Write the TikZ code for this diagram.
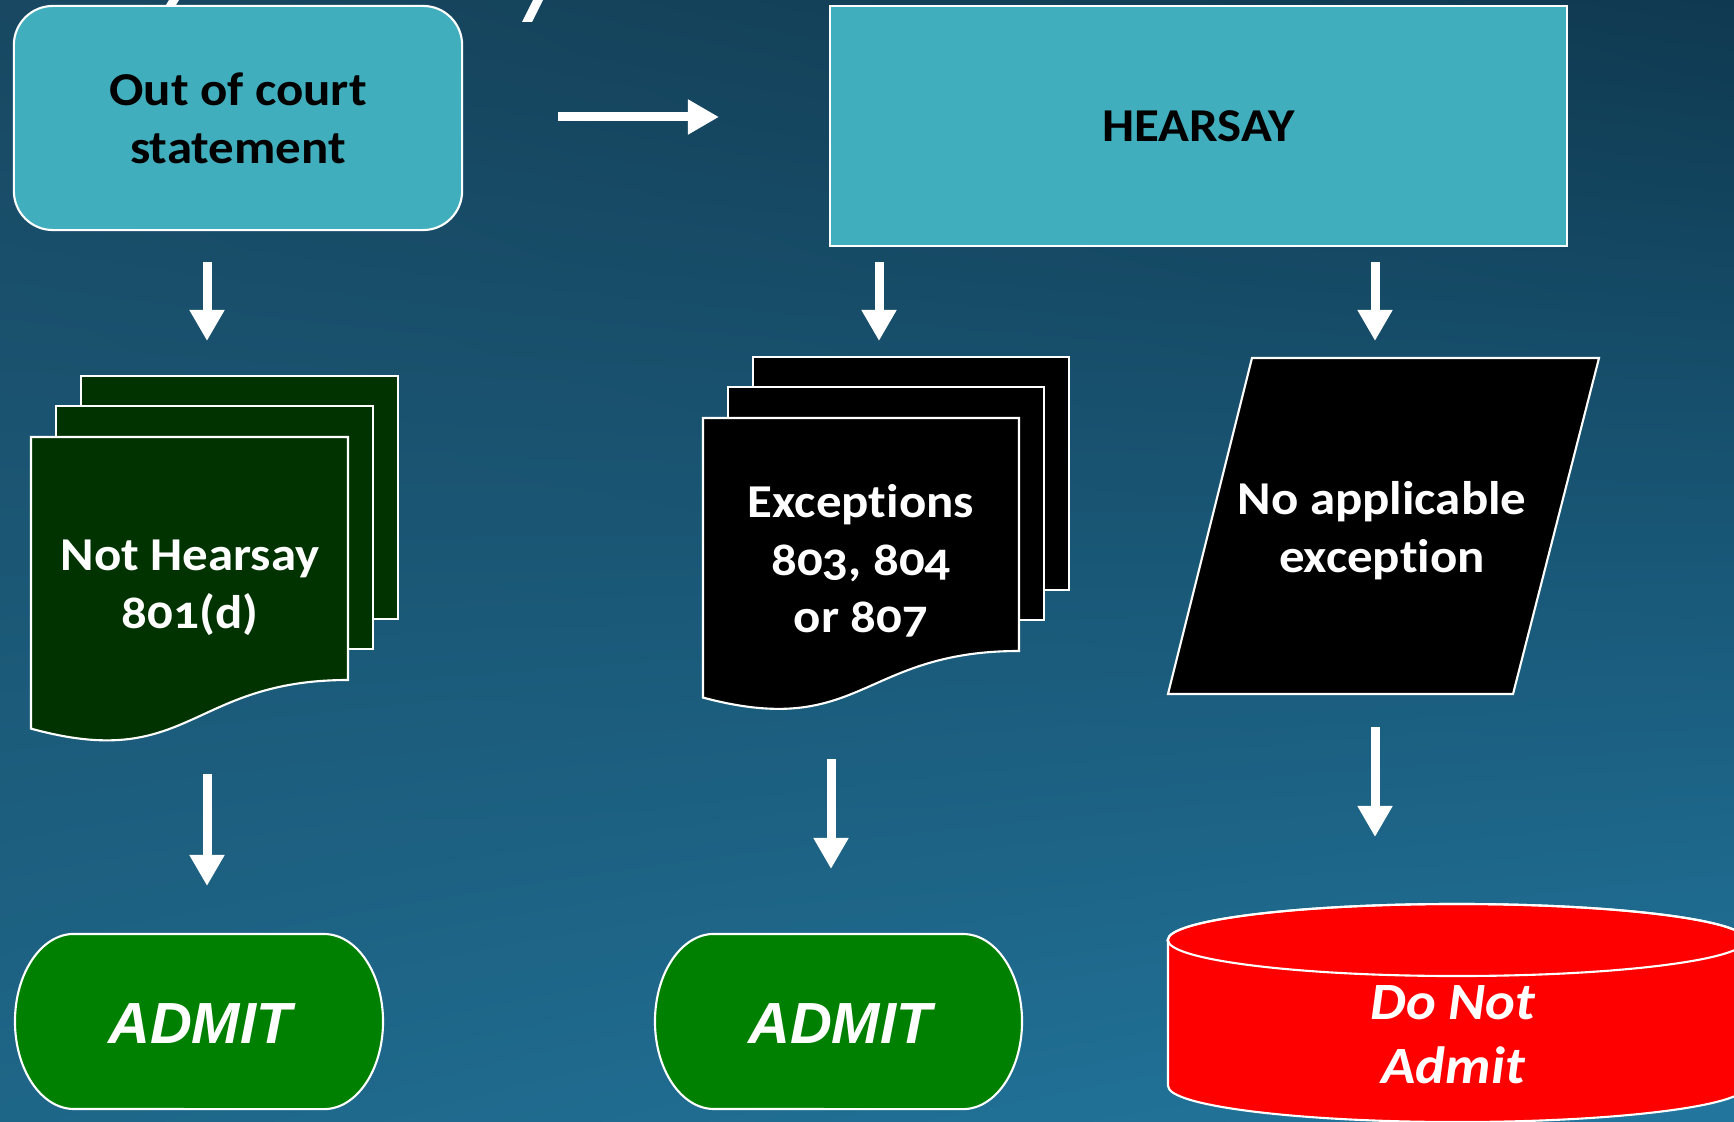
\documentclass[tikz,border=0pt]{standalone}
\usepackage{fontspec}
\setmainfont{Carlito}[Numbers=OldStyle,FakeStretch=1.08,Ligatures=NoCommon]
\newfontfamily\admitfont{Liberation Sans}
\usetikzlibrary{arrows.meta,shadings}

\definecolor{tealbox}{HTML}{41AEBD}
\definecolor{darkgreen}{HTML}{003300}
\definecolor{admitgreen}{HTML}{008000}
\definecolor{bgUL}{HTML}{184862}
\definecolor{bgUR}{HTML}{0F3950}
\definecolor{bgLL}{HTML}{1E6688}
\definecolor{bgLR}{HTML}{22769E}

\tikzset{
    flow/.style = {draw=white, line width=0.09cm, -{Triangle[length=0.31cm,width=0.33cm]}},
    outline/.style = {draw=white, line width=0.6pt},
    box/.style = {outline, fill=tealbox, text=black, align=center,
                  font=\fontsize{13.4}{16.4}\selectfont\bfseries},
    txt/.style = {text=white, align=center, font=\fontsize{13.4}{16.4}\selectfont\bfseries},
    endtxt/.style = {text=white, font=\admitfont\fontsize{16.5}{20}\selectfont\bfseries\itshape}
}

% three stacked sheets: left, top, width, height, fill
\newcommand{\pagestack}[5]{%
  \filldraw[outline,fill=#5] (#1+50,#2+61) rectangle ++(#3,-#4);
  \filldraw[outline,fill=#5] (#1+25,#2+31) rectangle ++(#3,-#4);
  \filldraw[outline,fill=#5] (#1,#2) -- ++(#3,0) -- ++(0,-#4)
    .. controls (#1+#3/2,#2-#4) and (#1+#3/2,#2-1.38*#4) .. (#1,#2-1.2*#4) -- cycle;}

% terminator with elliptic ends: left, top, width
\newcommand{\termshape}[3]{%
  \filldraw[outline,fill=admitgreen] (#1+59,#2) -- (#1+#3-59,#2)
    arc[start angle=90,end angle=-90,x radius=0.59cm,y radius=0.875cm]
    -- (#1+59,#2-175)
    arc[start angle=270,end angle=90,x radius=0.59cm,y radius=0.875cm] -- cycle;}

\begin{document}
\begin{tikzpicture}[x=0.01cm,y=0.01cm]
  \useasboundingbox (0,0) rectangle (1734,-1122);
  \shade[upper left=bgUL, upper right=bgUR, lower left=bgLL, lower right=bgLR]
    (0,0) rectangle (1734,-1122);

  % bits of the heading above the frame
  \fill[white] (166,-5) -- (176,-5) -- (179,0) -- (169,0) -- cycle;
  \fill[white] (522,-22) -- (532,-22) -- (543,0) -- (533,0) -- cycle;

  \node[box, minimum width=4.48cm, minimum height=2.24cm, rounded corners=0.39cm]
    (court) at (238,-118) {Out of court\\statement};
  \node[box, minimum width=7.37cm, minimum height=2.40cm]
    (hearsay) at (1198.5,-126) {HEARSAY};

  \pagestack{31}{-437}{317}{243}{darkgreen}
  \node[txt] (nothear) at (190,-588) {Not Hearsay\\801(d)};

  \pagestack{703}{-418}{316}{233}{black}
  \node[txt] (except) at (861,-561) {Exceptions\\803, 804\\or 807};

  \filldraw[outline,fill=black] (1252,-358) -- (1599,-358) -- (1513,-694) -- (1168,-694) -- cycle;
  \node[txt] (noexc) at (1382,-531) {No applicable\\exception};

  \termshape{15}{-934}{368}
  \node[endtxt] (admitA) at (200,-1024) {ADMIT};
  \termshape{655}{-934}{367}
  \node[endtxt] (admitB) at (840,-1024) {ADMIT};

  % cylinder, runs off the page
  \filldraw[outline,fill=red] (1168,-940) -- (1168,-1086)
    arc[start angle=180,end angle=360,x radius=2.89cm,y radius=0.36cm] -- (1746,-940)
    arc[start angle=0,end angle=180,x radius=2.89cm,y radius=0.36cm] -- cycle;
  \draw[outline] (1457,-940) ellipse[x radius=2.89cm,y radius=0.36cm];
  \node[txt, font=\fontsize{14.9}{18.2}\selectfont\bfseries\itshape]
    (reject) at (1453,-1035) {Do Not\\Admit};

  % arrows
  \coordinate (toHs) at (558,-117);  \coordinate (toHe) at (719,-117);
  \coordinate (d1s) at (207,-262);   \coordinate (d1e) at (207,-341);
  \coordinate (d2s) at (879,-262);   \coordinate (d2e) at (879,-341);
  \coordinate (d3s) at (1375,-262);  \coordinate (d3e) at (1375,-341);
  \coordinate (d4s) at (207,-774);   \coordinate (d4e) at (207,-886);
  \coordinate (d5s) at (831,-759);   \coordinate (d5e) at (831,-869);
  \coordinate (d6s) at (1375,-727);  \coordinate (d6e) at (1375,-837);

  \draw[flow] (toHs) -- (toHe);
  \draw[flow] (d1s) -- (d1e);
  \draw[flow] (d2s) -- (d2e);
  \draw[flow] (d3s) -- (d3e);
  \draw[flow] (d4s) -- (d4e);
  \draw[flow] (d5s) -- (d5e);
  \draw[flow] (d6s) -- (d6e);
\end{tikzpicture}
\end{document}
